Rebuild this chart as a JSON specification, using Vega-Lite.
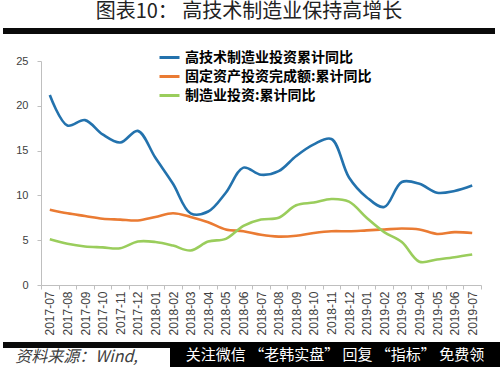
{
  "$schema": "https://vega.github.io/schema/vega-lite/v6.json",
  "padding": {"left": 3, "top": 2, "right": 0, "bottom": 0},
  "background": "#ffffff",
  "spacing": 6,
  "resolve": {"scale": {"color": "independent"}, "legend": {"color": "independent"}},
  "config": {"view": {"stroke": null}, "font": "Liberation Sans"},
  "vconcat": [
    {
      "width": 454,
      "height": 6,
      "data": {"values": [{"t": "图表10：  高技术制造业保持高增长"}]},
      "encoding": {
        "x": {"field": "t", "type": "nominal", "scale": {"range": [-38, 454], "paddingInner": 0, "paddingOuter": 0}, "axis": null}
      },
      "layer": [
        {"mark": {"type": "bar", "color": "#0a0a0a", "opacity": 1}},
        {
          "mark": {"type": "text", "font": "Noto Sans CJK SC", "fontSize": 20, "color": "#222222", "baseline": "middle", "dy": -19},
          "encoding": {"text": {"field": "t"}}
        }
      ]
    },
    {
      "width": 440,
      "height": 224,
      "data": {"values": [
        {"month": "2017-07", "series": "高技术制造业投资累计同比", "value": 21.2},
        {"month": "2017-08", "series": "高技术制造业投资累计同比", "value": 17.8},
        {"month": "2017-09", "series": "高技术制造业投资累计同比", "value": 18.4},
        {"month": "2017-10", "series": "高技术制造业投资累计同比", "value": 16.8},
        {"month": "2017-11", "series": "高技术制造业投资累计同比", "value": 15.9},
        {"month": "2017-12", "series": "高技术制造业投资累计同比", "value": 17.2},
        {"month": "2018-01", "series": "高技术制造业投资累计同比", "value": 14.2},
        {"month": "2018-02", "series": "高技术制造业投资累计同比", "value": 11.3},
        {"month": "2018-03", "series": "高技术制造业投资累计同比", "value": 8.0},
        {"month": "2018-04", "series": "高技术制造业投资累计同比", "value": 8.2},
        {"month": "2018-05", "series": "高技术制造业投资累计同比", "value": 10.3},
        {"month": "2018-06", "series": "高技术制造业投资累计同比", "value": 13.1},
        {"month": "2018-07", "series": "高技术制造业投资累计同比", "value": 12.3},
        {"month": "2018-08", "series": "高技术制造业投资累计同比", "value": 12.7},
        {"month": "2018-09", "series": "高技术制造业投资累计同比", "value": 14.4},
        {"month": "2018-10", "series": "高技术制造业投资累计同比", "value": 15.7},
        {"month": "2018-11", "series": "高技术制造业投资累计同比", "value": 16.3},
        {"month": "2018-12", "series": "高技术制造业投资累计同比", "value": 12.0},
        {"month": "2019-01", "series": "高技术制造业投资累计同比", "value": 9.8},
        {"month": "2019-02", "series": "高技术制造业投资累计同比", "value": 8.7},
        {"month": "2019-03", "series": "高技术制造业投资累计同比", "value": 11.5},
        {"month": "2019-04", "series": "高技术制造业投资累计同比", "value": 11.3},
        {"month": "2019-05", "series": "高技术制造业投资累计同比", "value": 10.3},
        {"month": "2019-06", "series": "高技术制造业投资累计同比", "value": 10.5},
        {"month": "2019-07", "series": "高技术制造业投资累计同比", "value": 11.1},
        {"month": "2017-07", "series": "固定资产投资完成额:累计同比", "value": 8.4},
        {"month": "2017-08", "series": "固定资产投资完成额:累计同比", "value": 8.0},
        {"month": "2017-09", "series": "固定资产投资完成额:累计同比", "value": 7.7},
        {"month": "2017-10", "series": "固定资产投资完成额:累计同比", "value": 7.4},
        {"month": "2017-11", "series": "固定资产投资完成额:累计同比", "value": 7.3},
        {"month": "2017-12", "series": "固定资产投资完成额:累计同比", "value": 7.2},
        {"month": "2018-01", "series": "固定资产投资完成额:累计同比", "value": 7.6},
        {"month": "2018-02", "series": "固定资产投资完成额:累计同比", "value": 8.0},
        {"month": "2018-03", "series": "固定资产投资完成额:累计同比", "value": 7.6},
        {"month": "2018-04", "series": "固定资产投资完成额:累计同比", "value": 7.0},
        {"month": "2018-05", "series": "固定资产投资完成额:累计同比", "value": 6.2},
        {"month": "2018-06", "series": "固定资产投资完成额:累计同比", "value": 6.0},
        {"month": "2018-07", "series": "固定资产投资完成额:累计同比", "value": 5.6},
        {"month": "2018-08", "series": "固定资产投资完成额:累计同比", "value": 5.4},
        {"month": "2018-09", "series": "固定资产投资完成额:累计同比", "value": 5.5},
        {"month": "2018-10", "series": "固定资产投资完成额:累计同比", "value": 5.8},
        {"month": "2018-11", "series": "固定资产投资完成额:累计同比", "value": 6.0},
        {"month": "2018-12", "series": "固定资产投资完成额:累计同比", "value": 6.0},
        {"month": "2019-01", "series": "固定资产投资完成额:累计同比", "value": 6.1},
        {"month": "2019-02", "series": "固定资产投资完成额:累计同比", "value": 6.2},
        {"month": "2019-03", "series": "固定资产投资完成额:累计同比", "value": 6.3},
        {"month": "2019-04", "series": "固定资产投资完成额:累计同比", "value": 6.2},
        {"month": "2019-05", "series": "固定资产投资完成额:累计同比", "value": 5.7},
        {"month": "2019-06", "series": "固定资产投资完成额:累计同比", "value": 5.9},
        {"month": "2019-07", "series": "固定资产投资完成额:累计同比", "value": 5.8},
        {"month": "2017-07", "series": "制造业投资:累计同比", "value": 5.1},
        {"month": "2017-08", "series": "制造业投资:累计同比", "value": 4.6},
        {"month": "2017-09", "series": "制造业投资:累计同比", "value": 4.3},
        {"month": "2017-10", "series": "制造业投资:累计同比", "value": 4.2},
        {"month": "2017-11", "series": "制造业投资:累计同比", "value": 4.1},
        {"month": "2017-12", "series": "制造业投资:累计同比", "value": 4.85},
        {"month": "2018-01", "series": "制造业投资:累计同比", "value": 4.8},
        {"month": "2018-02", "series": "制造业投资:累计同比", "value": 4.4},
        {"month": "2018-03", "series": "制造业投资:累计同比", "value": 3.85},
        {"month": "2018-04", "series": "制造业投资:累计同比", "value": 4.85},
        {"month": "2018-05", "series": "制造业投资:累计同比", "value": 5.15},
        {"month": "2018-06", "series": "制造业投资:累计同比", "value": 6.6},
        {"month": "2018-07", "series": "制造业投资:累计同比", "value": 7.3},
        {"month": "2018-08", "series": "制造业投资:累计同比", "value": 7.5},
        {"month": "2018-09", "series": "制造业投资:累计同比", "value": 8.9},
        {"month": "2018-10", "series": "制造业投资:累计同比", "value": 9.2},
        {"month": "2018-11", "series": "制造业投资:累计同比", "value": 9.6},
        {"month": "2018-12", "series": "制造业投资:累计同比", "value": 9.3},
        {"month": "2019-01", "series": "制造业投资:累计同比", "value": 7.5},
        {"month": "2019-02", "series": "制造业投资:累计同比", "value": 5.9},
        {"month": "2019-03", "series": "制造业投资:累计同比", "value": 4.8},
        {"month": "2019-04", "series": "制造业投资:累计同比", "value": 2.6},
        {"month": "2019-05", "series": "制造业投资:累计同比", "value": 2.85},
        {"month": "2019-06", "series": "制造业投资:累计同比", "value": 3.1},
        {"month": "2019-07", "series": "制造业投资:累计同比", "value": 3.4}
      ]},
      "mark": {"type": "line", "interpolate": "catmull-rom", "strokeWidth": 2.6},
      "encoding": {
        "x": {
          "field": "month", "type": "ordinal", "bandPosition": 0.5,
          "scale": {"type": "band", "paddingInner": 0, "paddingOuter": 0},
          "axis": {"title": null, "labelAngle": -90, "tickBand": "extent", "domainColor": "#bfbfbf", "tickColor": "#bfbfbf", "tickSize": 4, "labelColor": "#404040", "labelFontSize": 12, "labelPadding": 2}
        },
        "y": {
          "field": "value", "type": "quantitative",
          "scale": {"domain": [0, 25], "nice": false},
          "axis": {"title": null, "values": [0, 5, 10, 15, 20, 25], "grid": false, "domainColor": "#bfbfbf", "tickColor": "#bfbfbf", "tickSize": 4, "labelPadding": 9, "labelColor": "#404040", "labelFontSize": 11, "minExtent": 38}
        },
        "color": {
          "field": "series", "type": "nominal",
          "scale": {"domain": ["高技术制造业投资累计同比", "固定资产投资完成额:累计同比", "制造业投资:累计同比"], "range": ["#2372ad", "#ea7b33", "#9acd5c"]},
          "legend": {"orient": "none", "legendX": 111, "legendY": -21, "title": null, "symbolType": "stroke", "symbolSize": 400, "symbolStrokeWidth": 3, "labelFont": "Noto Sans CJK SC", "labelFontSize": 14, "labelFontWeight": "bold", "labelColor": "#000000", "rowPadding": 0, "padding": 6, "labelOffset": 4, "labelLimit": 400}
        }
      }
    },
    {
      "spacing": 0,
      "bounds": "flush",
      "hconcat": [
        {
          "width": 129,
          "height": 6,
          "data": {"values": [{"t": "资料来源：Wind, "}]},
          "encoding": {
            "x": {"field": "t", "type": "nominal", "scale": {"range": [-38, 129], "paddingInner": 0, "paddingOuter": 0}, "axis": null}
          },
          "layer": [
            {"mark": {"type": "bar", "color": "#0a0a0a", "opacity": 1}},
            {
              "mark": {"type": "text", "font": "Noto Sans CJK SC", "fontSize": 16, "fontStyle": "italic", "color": "#404040", "baseline": "middle", "dx": -10, "dy": 12},
              "encoding": {"text": {"field": "t"}}
            }
          ]
        },
        {
          "width": 330,
          "height": 25,
          "view": {"fill": "#000000", "stroke": null},
          "data": {"values": [{"t": "关注微信 “老韩实盘” 回复 “指标” 免费领"}]},
          "mark": {"type": "text", "font": "Noto Sans CJK SC", "fontSize": 15, "color": "#ffffff"},
          "encoding": {"text": {"field": "t"}}
        }
      ]
    }
  ]
}
